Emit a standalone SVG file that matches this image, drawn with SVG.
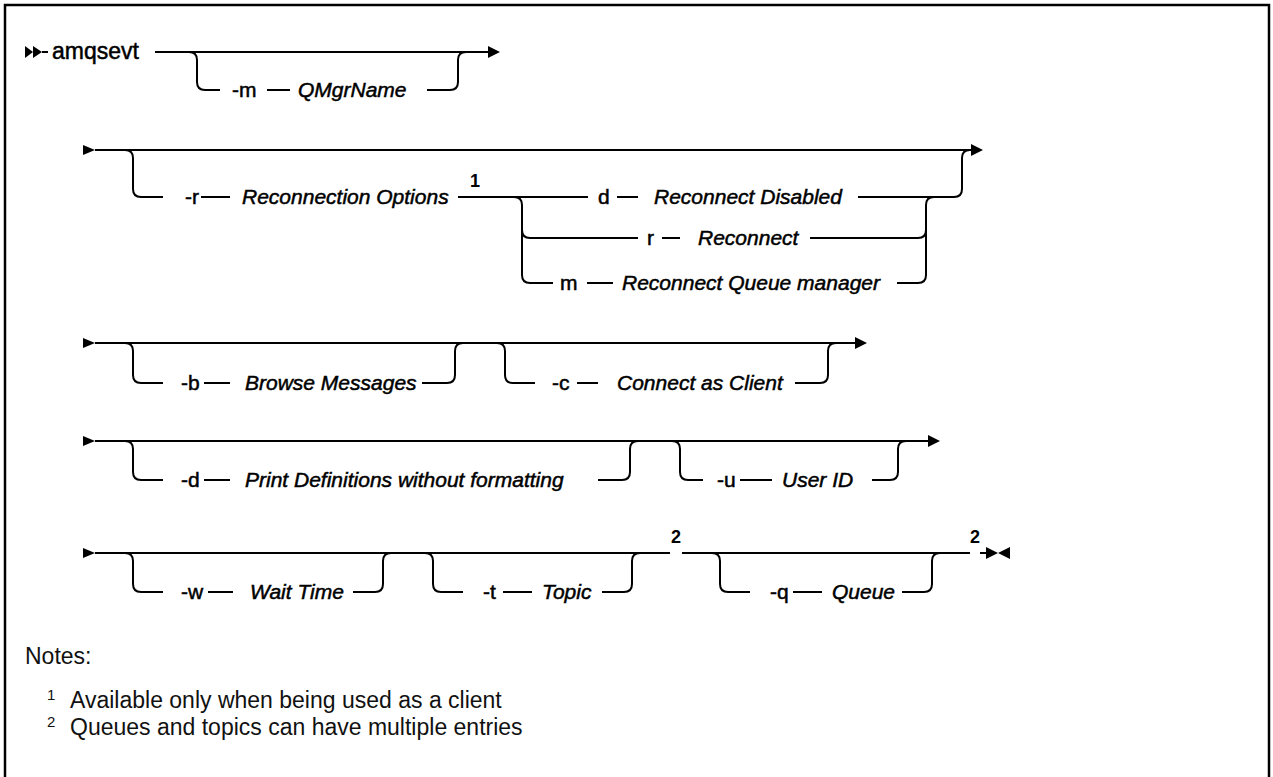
<svg xmlns="http://www.w3.org/2000/svg" width="1273" height="777" viewBox="0 0 1273 777">
<style>
.ln{fill:none;stroke:#000;stroke-width:2}
.ar{fill:#000}
.t{font-family:"Liberation Sans",Arial,sans-serif;font-size:21px;fill:#000;stroke:#000;stroke-width:0.5}
.i{font-style:italic}
.sup{font-family:"Liberation Sans",Arial,sans-serif;font-size:18px;font-weight:bold;fill:#000}
.n{font-family:"Liberation Sans",Arial,sans-serif;font-size:23px;fill:#111}
.ns{font-family:"Liberation Sans",Arial,sans-serif;font-size:15px;fill:#111}
</style>
<rect x="0" y="0" width="1273" height="777" fill="#fff"/>
<path d="M5,777 V5 H1269 V777" fill="none" stroke="#000" stroke-width="2.5"/>

<g id="connectors">
  <!-- row 1 -->
  <polygon class="ar" points="25,46 25,58 33,52"/>
  <polygon class="ar" points="33,46 33,58 42,52"/>
  <path class="ln" d="M42,52 H48 M155,52 H488"/>
  <polygon class="ar" points="488,46 488,58 500,52"/>
  <path class="ln" d="M189,52 Q197,52 197,60 V82 Q197,90 205,90 H220 M267,90 H290 M427,90 H450 Q458,90 458,82 V60 Q458,52 466,52"/>
  <!-- row 2 -->
  <polygon class="ar" points="83,145 83,155 95,150"/>
  <path class="ln" d="M95,150 H972"/>
  <polygon class="ar" points="971,144 971,156 983,150"/>
  <path class="ln" d="M125,150 Q133,150 133,158 V189 Q133,197 141,197 H163 M201,197 H230 M458,197 H588 M617,197 H638 M858,197 H954 Q962,197 962,189 V158 Q962,150 970,150"/>
  <path class="ln" d="M514,197 Q522,197 522,205 V275 Q522,283 530,283 H553 M522,230 Q522,238 530,238 H638 M662,238 H680 M810,238 H918 Q926,238 926,230 M587,283 H613 M897,283 H918 Q926,283 926,275 V205 Q926,197 934,197"/>
  <!-- row 3 -->
  <polygon class="ar" points="83,338 83,348 95,343"/>
  <path class="ln" d="M95,343 H855"/>
  <polygon class="ar" points="855,337 855,349 867,343"/>
  <path class="ln" d="M125,343 Q133,343 133,351 V375 Q133,383 141,383 H163 M204,383 H230 M422,383 H447 Q455,383 455,375 V351 Q455,343 463,343"/>
  <path class="ln" d="M497,343 Q505,343 505,351 V375 Q505,383 513,383 H535 M577,383 H598 M795,383 H820 Q828,383 828,375 V351 Q828,343 836,343"/>
  <!-- row 4 -->
  <polygon class="ar" points="83,436 83,446 95,441"/>
  <path class="ln" d="M95,441 H928"/>
  <polygon class="ar" points="928,435 928,447 940,441"/>
  <path class="ln" d="M125,441 Q133,441 133,449 V472 Q133,480 141,480 H163 M204,480 H230 M598,480 H622 Q630,480 630,472 V449 Q630,441 638,441"/>
  <path class="ln" d="M672,441 Q680,441 680,449 V472 Q680,480 688,480 H703 M740,480 H772 M872,480 H890 Q898,480 898,472 V449 Q898,441 906,441"/>
  <!-- row 5 -->
  <polygon class="ar" points="83,548 83,558 95,553"/>
  <path class="ln" d="M95,553 H670 M682,553 H970 M980,553 H987"/>
  <polygon class="ar" points="986,547 986,559 998,553"/>
  <polygon class="ar" points="1010,547 1010,559 998,553"/>
  <path class="ln" d="M125,553 Q133,553 133,561 V584 Q133,592 141,592 H163 M208,592 H233 M353,592 H375 Q383,592 383,584 V561 Q383,553 391,553"/>
  <path class="ln" d="M425,553 Q433,553 433,561 V584 Q433,592 441,592 H463 M503,592 H532 M602,592 H624 Q632,592 632,584 V561 Q632,553 640,553"/>
  <path class="ln" d="M712,553 Q720,553 720,561 V584 Q720,592 728,592 H750 M793,592 H822 M902,592 H924 Q932,592 932,584 V561 Q932,553 940,553"/>
</g>

<g id="cmd"><text class="t" x="52" y="59" style="font-size:23px">amqsevt</text></g>
<g id="opt-m"><text class="t" x="232" y="97">-m</text><text class="t i" x="298" y="97">QMgrName</text></g>
<g id="opt-r"><text class="t" x="185" y="204">-r</text><text class="t i" x="242" y="204">Reconnection Options</text><text class="sup" x="475" y="187" text-anchor="middle">1</text></g>
<g id="choice-d"><text class="t" x="598" y="204">d</text><text class="t i" x="654" y="204">Reconnect Disabled</text></g>
<g id="choice-r"><text class="t" x="647" y="245">r</text><text class="t i" x="698" y="245">Reconnect</text></g>
<g id="choice-m"><text class="t" x="560" y="290">m</text><text class="t i" x="622" y="290">Reconnect Queue manager</text></g>
<g id="opt-b"><text class="t" x="181" y="390">-b</text><text class="t i" x="245" y="390">Browse Messages</text></g>
<g id="opt-c"><text class="t" x="552" y="390">-c</text><text class="t i" x="617" y="390">Connect as Client</text></g>
<g id="opt-d"><text class="t" x="181" y="487">-d</text><text class="t i" x="245" y="487">Print Definitions without formatting</text></g>
<g id="opt-u"><text class="t" x="717" y="487">-u</text><text class="t i" x="782" y="487">User ID</text></g>
<g id="opt-w"><text class="t" x="181" y="599">-w</text><text class="t i" x="250" y="599">Wait Time</text></g>
<g id="opt-t"><text class="t" x="483" y="599">-t</text><text class="t i" x="542" y="599">Topic</text><text class="sup" x="676" y="543" text-anchor="middle">2</text></g>
<g id="opt-q"><text class="t" x="770" y="599">-q</text><text class="t i" x="832" y="599">Queue</text><text class="sup" x="975" y="543" text-anchor="middle">2</text></g>

<g id="notes">
  <text class="n" x="25" y="664">Notes:</text>
  <text class="ns" x="47" y="700">1</text>
  <text class="n" x="70" y="708">Available only when being used as a client</text>
  <text class="ns" x="47" y="727">2</text>
  <text class="n" x="70" y="735">Queues and topics can have multiple entries</text>
</g>
</svg>
